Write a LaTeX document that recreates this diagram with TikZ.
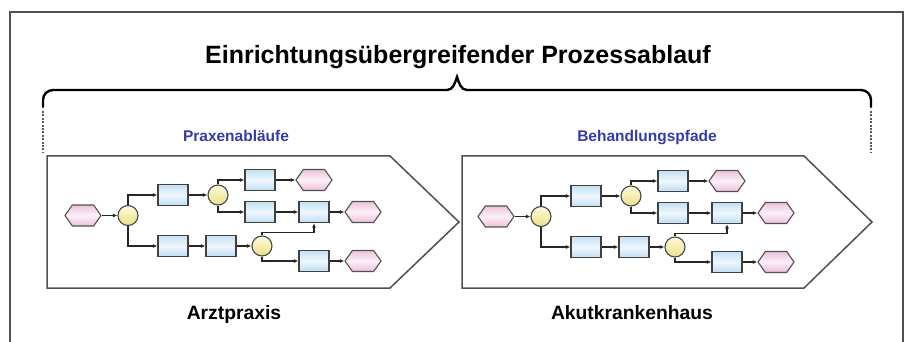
\documentclass[tikz,border=0pt]{standalone}
\usepackage{fontspec}
\setmainfont{Liberation Sans}
\usetikzlibrary{arrows.meta,shapes.symbols}

\definecolor{headblue}{RGB}{52,60,168}
\definecolor{boxtop}{RGB}{196,224,243}
\definecolor{boxmid}{RGB}{238,247,253}
\definecolor{boxbot}{RGB}{192,222,242}
\definecolor{evttop}{RGB}{236,196,220}
\definecolor{evtmid}{RGB}{252,240,247}
\definecolor{evtbot}{RGB}{234,192,218}
\definecolor{gatetop}{RGB}{253,250,222}
\definecolor{gatebot}{RGB}{236,224,135}
\definecolor{edgegray}{RGB}{80,80,80}

\tikzset{
  frameline/.style={draw=edgegray, line width=1.1pt},
  bracestyle/.style={draw=black, line width=2.4pt, line cap=round},
  guideline/.style={draw=black!65, line width=1.1pt, dash pattern=on 2pt off 1.4pt},
  stagebox/.style={draw=edgegray, line width=1.5pt},
  procbox/.style={rectangle, draw=black!75, line width=1.3pt,
    minimum width=30pt, minimum height=21pt, inner sep=0pt,
    top color=boxtop, bottom color=boxbot, middle color=boxmid},
  evtbox/.style={signal, signal to=east and west, signal pointer angle=110,
    draw=black!68, line width=1.1pt, minimum width=36pt, minimum height=21pt,
    inner sep=0pt, top color=evttop, bottom color=evtbot, middle color=evtmid},
  gate/.style={circle, draw=black!72, line width=1.1pt, minimum size=20pt,
    inner sep=0pt, top color=gatetop, bottom color=gatebot},
  flowline/.style={draw=black!85, line width=1.1pt,
    -{Latex[length=4.5pt,width=4pt]}},
  headline/.style={font=\bfseries\fontsize{25}{30}\selectfont, inner sep=0pt},
  sublabel/.style={font=\bfseries\fontsize{15.5}{18}\selectfont, text=headblue, inner sep=0pt},
  placelabel/.style={font=\bfseries\fontsize{19.3}{23}\selectfont, inner sep=0pt}
}

% one process chain: events, functions and connectors; #1 prefixes the node names
\newcommand\procflow[1]{%
  \node[evtbox]  (#1s)  at (83,215.5) {};
  \node[gate]    (#1c1) at (128,215.5) {};
  \node[procbox] (#1b1) at (173,195) {};
  \node[gate]    (#1c2) at (218,195) {};
  \node[procbox] (#1bA) at (260,180) {};
  \node[procbox] (#1bB) at (260,212) {};
  \node[evtbox]  (#1e1) at (314,180) {};
  \node[procbox] (#1bC) at (314,212) {};
  \node[evtbox]  (#1e2) at (363,212) {};
  \node[procbox] (#1l1) at (173,246) {};
  \node[procbox] (#1l2) at (221,246) {};
  \node[gate]    (#1c3) at (262,246) {};
  \node[procbox] (#1bD) at (314,261) {};
  \node[evtbox]  (#1e3) at (363,261) {};
  \draw[flowline] (#1s) -- (#1c1);
  \draw[flowline] (#1c1) |- (#1b1);
  \draw[flowline] (#1c1) |- (#1l1);
  \draw[flowline] (#1b1) -- (#1c2);
  \draw[flowline] (#1c2) |- (#1bA);
  \draw[flowline] (#1c2) |- (#1bB);
  \draw[flowline] (#1bA) -- (#1e1);
  \draw[flowline] (#1bB) -- (#1bC);
  \draw[flowline] (#1bC) -- (#1e2);
  \draw[flowline] (#1l1) -- (#1l2);
  \draw[flowline] (#1l2) -- (#1c3);
  \draw[flowline] (#1c3.north) -- ++(0,-3) -| (#1bC.south);
  \draw[flowline] (#1c3) |- (#1bD);
  \draw[flowline] (#1bD) -- (#1e3);
}

\begin{document}
\begin{tikzpicture}[x=1pt,y=-1pt]
  \useasboundingbox (0,0) rectangle (905,342);
  \fill[white] (0,0) rectangle (905,342);

  % outer frame, open at the bottom
  \draw[frameline] (10,342) -- (10,12) -- (903,12) -- (903,342);

  % heading
  \node[headline, anchor=base] (head) at (458,64) {Einrichtungsübergreifender Prozessablauf};

  % curly brace spanning both stages
  \draw[bracestyle, rounded corners=10pt]
    (43,107) -- (43,90) -- (447,90);
  \draw[bracestyle]
    (447,90) .. controls (453,90) and (455,83) .. (457,77)
    .. controls (459,83) and (461,90) .. (467,90);
  \draw[bracestyle, rounded corners=10pt]
    (467,90) -- (871,90) -- (871,107);
  \coordinate (gl1) at (43,111);
  \coordinate (gl2) at (43,152);
  \coordinate (gr1) at (871,111);
  \coordinate (gr2) at (871,152);
  \draw[guideline] (gl1) -- (gl2);
  \draw[guideline] (gr1) -- (gr2);

  % stage headings
  \node[sublabel, anchor=base] (subA) at (236,142) {Praxenabläufe};
  \node[sublabel, anchor=base] (subB) at (647,142) {Behandlungspfade};

  % stage arrows
  \draw[stagebox] (47,156) -- (390,156) -- (459,222) -- (390,288) -- (47,288) -- cycle;
  \draw[stagebox] (462,156) -- (804,156) -- (872,222) -- (804,288) -- (462,288) -- cycle;

  % process chains
  \procflow{p}
  \begin{scope}[shift={(413,1)}]
    \procflow{k}
  \end{scope}

  % stage names
  \node[placelabel, anchor=base] (plA) at (234,319) {Arztpraxis};
  \node[placelabel, anchor=base] (plB) at (632,319) {Akutkrankenhaus};
\end{tikzpicture}
\end{document}
